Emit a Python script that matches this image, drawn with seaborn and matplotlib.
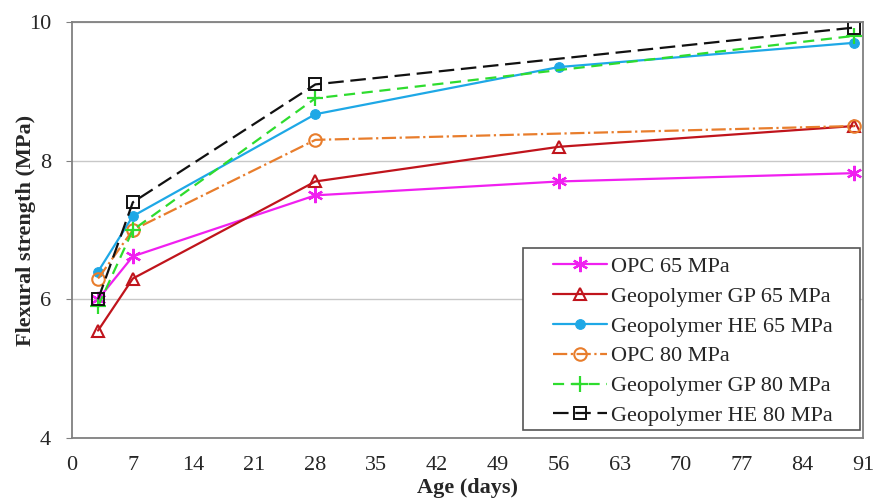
import numpy as np
import pandas as pd
import seaborn as sns
import matplotlib.pyplot as plt
from matplotlib.patches import Rectangle

# flexural strength (MPa) vs age (days)
days_full = [3, 7, 28, 56, 90]
days_short = [3, 7, 28, 90]

opc_65 = [6.0, 6.62, 7.5, 7.7, 7.82]
gp_65 = [5.55, 6.3, 7.7, 8.2, 8.5]
he_65 = [6.4, 7.2, 8.67, 9.35, 9.7]
opc_80 = [6.3, 7.0, 8.3, 8.5]
gp_80 = [5.9, 7.0, 8.9, 9.8]
he_80 = [6.0, 7.4, 9.1, 9.92]

labels = ["OPC 65 MPa", "Geopolymer GP 65 MPa", "Geopolymer HE 65 MPa",
          "OPC 80 MPa", "Geopolymer GP 80 MPa", "Geopolymer HE 80 MPa"]
xticks = [0, 7, 14, 21, 28, 35, 42, 49, 56, 63, 70, 77, 84, 91]
yticks = [4, 6, 8, 10]

sns.set_style("white")
plt.rcParams['font.family'] = ['Liberation Serif', 'DejaVu Serif']

fig = plt.figure(figsize=(8.75, 4.99), dpi=100)
ax = fig.add_axes([72/875, 1-438/499, (863-72)/875, (438-22)/499])

styles = [
    (days_full, opc_65, '#F020F0', dict(marker=(6, 2, 0), markersize=11, markeredgewidth=1.6, linestyle='-')),
    (days_full, gp_65, '#C0141C', dict(marker='^', markersize=9, markerfacecolor='none', markeredgewidth=1.5, linestyle='-')),
    (days_full, he_65, '#1EA8E6', dict(marker='o', markersize=7, linestyle='-')),
    (days_short, opc_80, '#E87D2C', dict(marker='o', markersize=9, markerfacecolor='none', markeredgewidth=1.5, linestyle='-.')),
    (days_short, gp_80, '#2EDC2E', dict(marker='+', markersize=11, markeredgewidth=1.6, linestyle=(0, (5, 3)))),
    (days_short, he_80, '#111111', dict(marker='s', markersize=9, markerfacecolor='none', markeredgewidth=1.4, linestyle=(0, (7, 3)))),
]

for (x, y, col, kw), lab in zip(styles, labels):
    df = pd.DataFrame({'age': x, 'strength': y})
    sns.lineplot(data=df, x='age', y='strength', ax=ax, color=col, linewidth=1.6,
                 label=lab, markeredgecolor=col, **kw)

ax.set_xlim(0, 91)
ax.set_ylim(4, 10)
ax.set_xticks(xticks)
ax.set_yticks(yticks)
ax.yaxis.grid(True, color='#c8c8c8', linewidth=1)
ax.xaxis.grid(False)
ax.tick_params(axis='x', direction='in', length=5, color='#808080', labelsize=16, pad=13)
ax.tick_params(axis='y', direction='out', length=4, color='#808080', labelsize=16, left=True, pad=11)
for sp in ax.spines.values():
    sp.set_color('#808080')
    sp.set_linewidth(1.3)

ax.set_xlabel("Age (days)", fontsize=16, fontweight='bold', labelpad=2)
ax.set_ylabel("Flexural strength (MPa)", fontsize=16, fontweight='bold', labelpad=-5)

# legend box drawn separately so the wide side padding matches
ax.add_patch(Rectangle((0.570, 0.019), 0.426, 0.438, transform=ax.transAxes,
                       facecolor='white', edgecolor='#555555', linewidth=1.2, zorder=4))
leg = ax.legend(loc='upper left', bbox_to_anchor=(0.608, 0.437), borderaxespad=0,
                fontsize=16, frameon=False, handlelength=2.45, handletextpad=0.15,
                labelspacing=0.42, borderpad=0)
leg.set_zorder(5)

fig.savefig("out.png", dpi=100)
